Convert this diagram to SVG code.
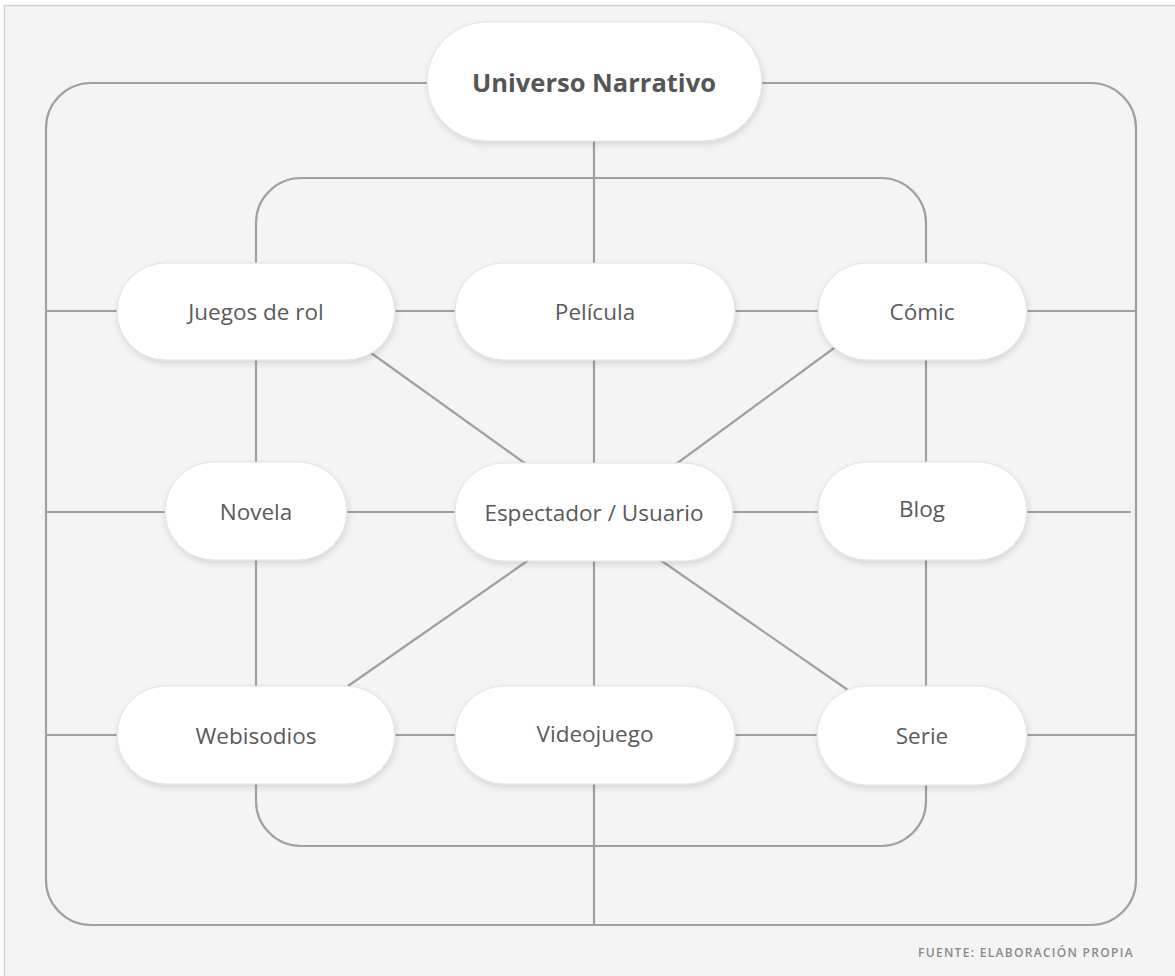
<svg xmlns="http://www.w3.org/2000/svg" width="1175" height="976" viewBox="0 0 1175 976">
<style>
.bg{fill:#f4f4f4;stroke:#d2d2d2;stroke-width:1.5}
.ln{fill:none;stroke:#a0a0a0;stroke-width:2.2}
.pill{fill:#ffffff;stroke:#e2e2e2;stroke-width:1;filter:url(#sh)}
.lbl{font-family:"Open Sans","Noto Sans",sans-serif;font-size:22.5px;fill:#5a5a5a;text-anchor:middle;dominant-baseline:central}
.title{font-family:"Open Sans","Noto Sans",sans-serif;font-size:25.5px;font-weight:700;fill:#555555;text-anchor:middle;dominant-baseline:central}
.foot{font-family:"Open Sans","Noto Sans",sans-serif;font-size:12px;font-weight:600;fill:#8a8a8a;letter-spacing:1.3px}
</style>
<defs>
<filter id="sh" x="-20%" y="-20%" width="140%" height="150%">
<feDropShadow dx="1" dy="3" stdDeviation="3" flood-color="#000" flood-opacity="0.13"/>
</filter>
</defs>
<rect x="0" y="0" width="1175" height="976" fill="#ffffff"/>
<rect class="bg" x="4.5" y="5.5" width="1190" height="990"/>
<g id="connectors">
<rect class="ln" x="46" y="83" width="1090" height="842" rx="45" ry="45"/>
<rect class="ln" x="256" y="178" width="670" height="668" rx="45" ry="45"/>
<line class="ln" x1="594" y1="130" x2="594" y2="925"/>
<line class="ln" x1="46" y1="311" x2="1136" y2="311"/>
<line class="ln" x1="46" y1="512" x2="1131" y2="512"/>
<line class="ln" x1="46" y1="735" x2="1136" y2="735"/>
<line class="ln" x1="360" y1="345" x2="530" y2="467"/>
<line class="ln" x1="845" y1="340" x2="672" y2="467"/>
<line class="ln" x1="533" y1="557" x2="338" y2="693"/>
<line class="ln" x1="656" y1="557" x2="855" y2="695"/>
</g>
<g id="universo">
<rect class="pill" x="427" y="22" width="335" height="119" rx="59.5"/>
<text class="title" x="594" y="82">Universo Narrativo</text>
</g>
<g id="juegos">
<rect class="pill" x="117" y="263" width="278" height="97" rx="48.5"/>
<text class="lbl" x="256" y="311">Juegos de rol</text>
</g>
<g id="pelicula">
<rect class="pill" x="455" y="263" width="280" height="97" rx="48.5"/>
<text class="lbl" x="595" y="311">Película</text>
</g>
<g id="comic">
<rect class="pill" x="818" y="263" width="209" height="97" rx="48.5"/>
<text class="lbl" x="922" y="311">Cómic</text>
</g>
<g id="novela">
<rect class="pill" x="165" y="462" width="182" height="98" rx="49"/>
<text class="lbl" x="256" y="511">Novela</text>
</g>
<g id="espectador">
<rect class="pill" x="455" y="463" width="278" height="98" rx="49"/>
<text class="lbl" x="594" y="512">Espectador / Usuario</text>
</g>
<g id="blog">
<rect class="pill" x="818" y="462" width="209" height="98" rx="49"/>
<text class="lbl" x="922" y="508">Blog</text>
</g>
<g id="webisodios">
<rect class="pill" x="117" y="686" width="278" height="98" rx="49"/>
<text class="lbl" x="256" y="735">Webisodios</text>
</g>
<g id="videojuego">
<rect class="pill" x="455" y="686" width="280" height="98" rx="49"/>
<text class="lbl" x="595" y="733">Videojuego</text>
</g>
<g id="serie">
<rect class="pill" x="817" y="686" width="210" height="99" rx="49.5"/>
<text class="lbl" x="922" y="735">Serie</text>
</g>
<text class="foot" x="918" y="957">FUENTE: ELABORACIÓN PROPIA</text>
</svg>
